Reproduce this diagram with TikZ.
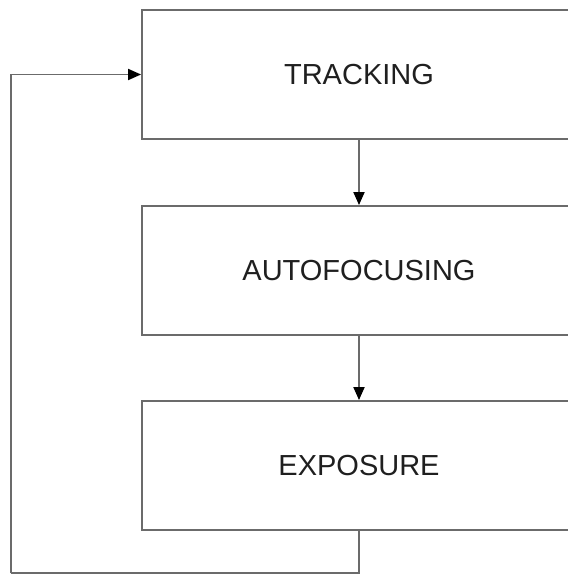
\documentclass[tikz,border=0pt]{standalone}
\usepackage{fontspec}
\setmainfont{Liberation Sans}
\usetikzlibrary{arrows.meta}
\begin{document}
\begin{tikzpicture}[x=1pt,y=1pt,
  stagebox/.style={draw=black!58, line width=1.9pt, minimum width=434pt, minimum height=129pt, inner sep=0pt, font=\fontsize{29}{35}\selectfont, text=black!88},
  flow/.style={draw=black!58, line width=1.9pt, -{Triangle[length=13pt,width=11pt,color=black]}},
  loopline/.style={draw=black!58, line width=1.9pt}]
\useasboundingbox (0,0) rectangle (568,574);
\clip (0,0) rectangle (568,574);
\node[stagebox] (t) at (359,499.5) {TRACKING};
\node[stagebox] (a) at (359,303.5) {AUTOFOCUSING};
\node[stagebox] (e) at (359,108.5) {EXPOSURE};
\draw[flow] (t) -- (a);
\draw[flow] (a) -- (e);
\coordinate (c1) at (359,0.6);
\coordinate (c2) at (11,0.6);
\draw[loopline] (e) -- (c1) -- (c2);
\draw[flow] (c2) |- (t);
\end{tikzpicture}
\end{document}
